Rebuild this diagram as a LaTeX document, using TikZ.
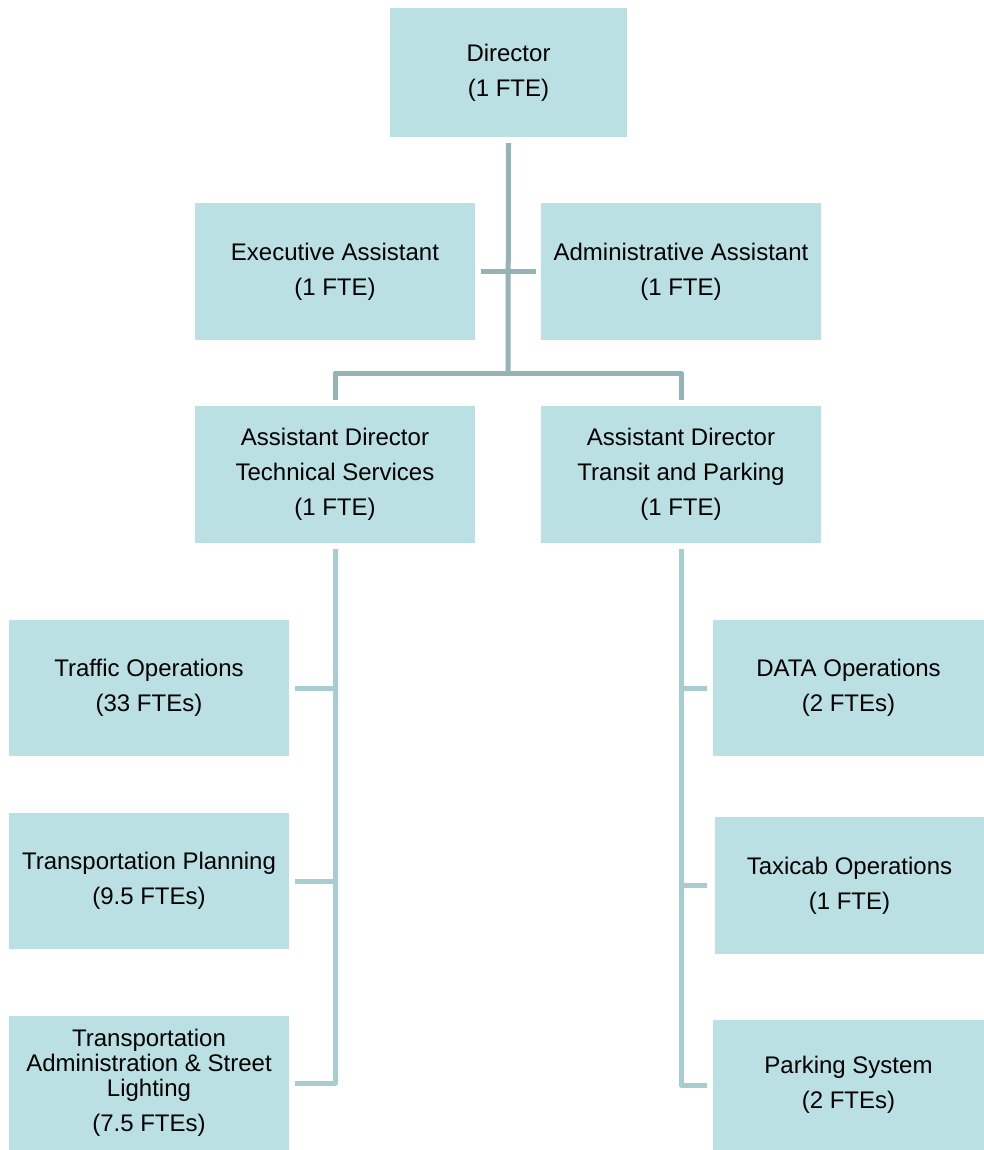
\documentclass[tikz,border=0pt]{standalone}
\usepackage{fontspec}
\setmainfont{Liberation Sans}
\definecolor{boxfill}{HTML}{BAE0E3}
\definecolor{topline}{HTML}{94B3B7}
\definecolor{lowline}{HTML}{A8CDD1}
\begin{document}
\begin{tikzpicture}[x=1pt,y=-1pt,
  box/.style={fill=boxfill,draw=none,inner sep=0pt,align=center,
    font=\fontsize{24}{35}\selectfont,text=black},
  upperline/.style={draw=topline,line width=5pt,line join=round},
  lowerline/.style={draw=lowline,line width=5pt,line join=round}]
\useasboundingbox (0,0) rectangle (984,1150);
\node[box,minimum width=237pt,minimum height=129pt] (dir) at (508.5,72.5) {Director\\(1 FTE)};
\node[box,minimum width=280pt,minimum height=137pt] (ea) at (335,271.5) {Executive Assistant\\(1 FTE)};
\node[box,minimum width=280pt,minimum height=137pt] (aa) at (681,271.5) {Administrative Assistant\\(1 FTE)};
\node[box,minimum width=280pt,minimum height=137pt] (adt) at (335,474.5) {Assistant Director\\Technical Services\\(1 FTE)};
\node[box,minimum width=280pt,minimum height=137pt] (adp) at (681,474.5) {Assistant Director\\Transit and Parking\\(1 FTE)};
\node[box,minimum width=280pt,minimum height=136pt] (to) at (149,688) {Traffic Operations\\(33 FTEs)};
\node[box,minimum width=280pt,minimum height=136pt] (tp) at (149,881) {Transportation Planning\\(9.5 FTEs)};
\node[box,minimum width=280pt,minimum height=134pt,font=\fontsize{24}{25}\selectfont] (ta) at (149,1083) {Transportation\\Administration \& Street\\Lighting\\[10pt](7.5 FTEs)};
\node[box,minimum width=271pt,minimum height=136pt] (data) at (848.5,688) {DATA Operations\\(2 FTEs)};
\node[box,minimum width=269pt,minimum height=137pt] (taxi) at (849.5,885.5) {Taxicab Operations\\(1 FTE)};
\node[box,minimum width=271pt,minimum height=130pt] (park) at (848.5,1085) {Parking System\\(2 FTEs)};
% top connectors
\coordinate (hub) at (508,373);
\draw[upperline] ([yshift=-6pt]dir.south) -- (hub);
\draw[upperline] ([xshift=6pt]ea.east |- 0,271) -- ([xshift=-5pt]aa.west |- 0,271);
\draw[upperline] ([yshift=6pt]adt.north) -- (adt.north |- hub) -- (adp.north |- hub) -- ([yshift=6pt]adp.north);
% left branch
\draw[lowerline] ([yshift=-6pt]adt.south) -- (adt.south |- ta.east) -- ([xshift=6pt]ta.east);
\draw[lowerline] (adt.south |- to.east) -- ([xshift=6pt]to.east);
\draw[lowerline] (adt.south |- tp.east) -- ([xshift=6pt]tp.east);
% right branch
\draw[lowerline] ([yshift=-6pt]adp.south) -- (adp.south |- park.west) -- ([xshift=-6pt]park.west);
\draw[lowerline] (adp.south |- data.west) -- ([xshift=-6pt]data.west);
\draw[lowerline] (adp.south |- taxi.west) -- ([xshift=-8pt]taxi.west);
\end{tikzpicture}
\end{document}
